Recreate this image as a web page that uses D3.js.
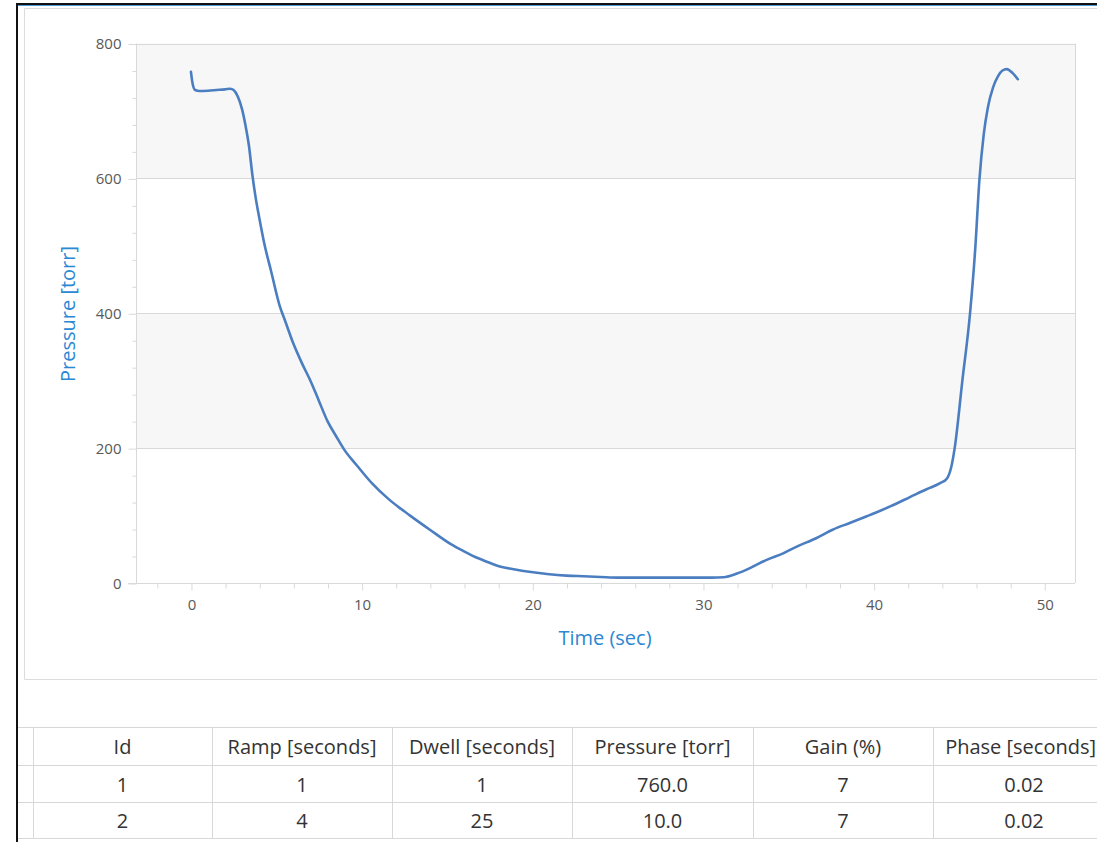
<!DOCTYPE html>
<html>
<head>
<meta charset="utf-8">
<script src="https://cdn.jsdelivr.net/npm/d3@7"></script>
<style>
  html, body { margin: 0; padding: 0; background: #ffffff; }
  svg { display: block; }
</style>
</head>
<body>
<svg id="chart" width="1097" height="842"></svg>
<script>
// ---------- data ----------
const timeSec = [0, 0.1, 0.25, 0.5, 1.0, 1.5, 2.0, 2.3, 2.5, 2.75, 3.0, 3.2, 3.4, 3.6, 3.8, 4.0, 4.3, 4.7, 5.2, 5.5, 6.0, 6.5, 7.0, 7.5, 8.0, 8.5, 9.0, 9.7, 10.6, 11.6, 12.3, 13.0, 14.0, 15.2, 16.0, 16.8, 17.5, 18.1, 19.0, 19.7, 20.5, 21.0, 22.0, 23.0, 24.0, 25.0, 27.0, 29.0, 30.5, 31.2, 32.0, 32.75, 33.7, 34.7, 35.5, 36.6, 37.6, 38.6, 39.6, 40.0, 41.0, 42.1, 43.1, 43.9, 44.3, 44.55, 44.75, 45.2, 45.65, 45.95, 46.2, 46.45, 46.7, 47.0, 47.3, 47.55, 47.8, 48.15, 48.45];
const pressureTorr = [758, 740, 731, 729.5, 730, 731, 732, 733, 731, 721, 702, 678, 648, 605, 570, 542, 503, 462, 411, 390, 355, 326, 300, 270, 240, 218, 197, 175, 148, 124, 110, 97, 79, 58, 47, 37, 30, 24.5, 20, 17, 14.5, 13, 11, 10, 9, 8, 8, 8, 8, 8.5, 14, 22, 34, 44, 54, 66, 79, 89, 99, 103, 114, 127, 139, 148, 155, 172, 200, 300, 400, 494, 598, 665, 706, 735, 752, 760, 762, 756, 747];

const yTicks = [0, 200, 400, 600, 800];
const yMinorTicks = d3.range(0, 801, 40);
const xTicks = [0, 10, 20, 30, 40, 50];
const xMinorTicks = d3.range(-2, 52, 2);

const xTitle = "Time (sec)";
const yTitle = "Pressure [torr]";

const tableColumns = ["Id", "Ramp [seconds]", "Dwell [seconds]", "Pressure [torr]", "Gain (%)", "Phase [seconds]"];
const tableRow1 = ["1", "1", "1", "760.0", "7", "0.02"];
const tableRow2 = ["2", "4", "25", "10.0", "7", "0.02"];

// ---------- drawing ----------
const svg = d3.select("#chart");
const FONT = "'Open Sans', 'Noto Sans', sans-serif";
const GRID = "#d9d9d9";
const LABEL = "#595959";
const TITLE = "#2b88d3";
const W = 1097;

// outer window frame
svg.append("rect").attr("x", 16).attr("y", 3).attr("width", 1081).attr("height", 2).attr("fill", "#111");
svg.append("rect").attr("x", 18).attr("y", 5).attr("width", 1079).attr("height", 1).attr("fill", "#4a9ad6");
svg.append("rect").attr("x", 16).attr("y", 3).attr("width", 2).attr("height", 839).attr("fill", "#111");

// chart panel
svg.append("path").attr("d", "M1097,8.5 H24.5 V679.5 H1097").attr("fill", "none").attr("stroke", "#dcdcdc").attr("stroke-width", 1);

const L = 136, R = 1075, T = 43.5, B = 583;
const x = d3.scaleLinear().domain([-3.22, 51.8]).range([L, R]);
const y = d3.scaleLinear().domain([0, 800]).range([B, T]);

// bands
const bands = yTicks.slice(0, -1);
svg.append("g").selectAll("rect").data(bands).join("rect")
  .attr("x", L).attr("width", R - L)
  .attr("y", d => y(d + 200)).attr("height", d => y(d) - y(d + 200))
  .attr("fill", (d, i) => (i % 2 === 1) ? "#f7f7f7" : "#ffffff");

// gridlines
svg.append("g").selectAll("line").data(yTicks.filter(d => d > 0)).join("line")
  .attr("x1", L).attr("x2", R)
  .attr("y1", d => Math.round(y(d)) + 0.5).attr("y2", d => Math.round(y(d)) + 0.5)
  .attr("stroke", GRID);

// right border
svg.append("line").attr("x1", R + 0.5).attr("x2", R + 0.5).attr("y1", y(800)).attr("y2", B).attr("stroke", GRID);

// y axis
const yAxis = svg.append("g").attr("transform", `translate(${L + 0.5},0.5)`)
  .call(d3.axisLeft(y).tickValues(yTicks).tickSize(8).tickPadding(7));
yAxis.selectAll(".tick text").attr("font-family", FONT).attr("font-size", 15).attr("fill", LABEL);
const yMinor = svg.append("g").attr("transform", `translate(${L + 0.5},0.5)`)
  .call(d3.axisLeft(y).tickValues(yMinorTicks.filter(d => yTicks.indexOf(d) < 0)).tickSize(4).tickFormat(""));
[yAxis, yMinor].forEach(g => {
  g.selectAll(".tick line").attr("stroke", GRID);
  g.select(".domain").remove();
});
svg.append("line").attr("x1", L + 0.5).attr("x2", L + 0.5).attr("y1", T).attr("y2", B).attr("stroke", GRID);

// x axis
const xAxis = svg.append("g").attr("transform", `translate(0.5,${Math.round(B) + 0.5})`)
  .call(d3.axisBottom(x).tickValues(xTicks).tickSize(7).tickPadding(9));
xAxis.selectAll(".tick text").attr("font-family", FONT).attr("font-size", 15).attr("fill", LABEL);
const xMinor = svg.append("g").attr("transform", `translate(0.5,${Math.round(B) + 0.5})`)
  .call(d3.axisBottom(x).tickValues(xMinorTicks.filter(d => xTicks.indexOf(d) < 0)).tickSize(5).tickFormat(""));
[xAxis, xMinor].forEach(g => {
  g.selectAll(".tick line").attr("stroke", GRID);
  g.select(".domain").remove();
});
svg.append("line").attr("x1", L - 8).attr("x2", R).attr("y1", Math.round(B) + 0.5).attr("y2", Math.round(B) + 0.5).attr("stroke", GRID);

// axis titles
svg.append("text").attr("x", 605).attr("y", 645).attr("text-anchor", "middle")
  .attr("font-family", FONT).attr("font-size", 20).attr("fill", TITLE).text(xTitle);
svg.append("text").attr("transform", "translate(75,314) rotate(-90)").attr("text-anchor", "middle")
  .attr("font-family", FONT).attr("font-size", 20).attr("fill", TITLE).text(yTitle);

// line
const pts = timeSec.map((t, i) => [t, pressureTorr[i]]);
const line = d3.line().x(d => x(d[0])).y(d => y(d[1])).curve(d3.curveMonotoneX);
svg.append("path").datum(pts).attr("d", line)
  .attr("fill", "none").attr("stroke", "#4b7ec0").attr("stroke-width", 2.6)
  .attr("stroke-linejoin", "round").attr("stroke-linecap", "round");

// ---------- table ----------
const colEdges = [33, 212, 392, 572, 753, 933, 1115];
const rowEdges = [727, 765, 802, 838];
const tbl = svg.append("g");
rowEdges.forEach(r => {
  tbl.append("line").attr("x1", 18).attr("x2", 1097).attr("y1", r + 0.5).attr("y2", r + 0.5).attr("stroke", "#d8d8d8");
});
colEdges.forEach(c => {
  tbl.append("line").attr("x1", c + 0.5).attr("x2", c + 0.5).attr("y1", rowEdges[0]).attr("y2", rowEdges[3]).attr("stroke", "#d8d8d8");
});
[tableColumns, tableRow1, tableRow2].forEach((row, ri) => {
  row.forEach((txt, ci) => {
    const cx = (colEdges[ci] + colEdges[ci + 1]) / 2;
    const t = tbl.append("text")
      .attr("x", cx)
      .attr("y", (rowEdges[ri] + rowEdges[ri + 1]) / 2 + 1)
      .attr("dy", "0.35em").attr("text-anchor", "middle")
      .attr("font-family", FONT).attr("font-size", 20).attr("fill", "#333")
      .text(txt);
    const w = t.node().getComputedTextLength();
    if (cx + w / 2 > W - 1) t.attr("x", W - 1 - w / 2);
  });
});
</script>
</body>
</html>
